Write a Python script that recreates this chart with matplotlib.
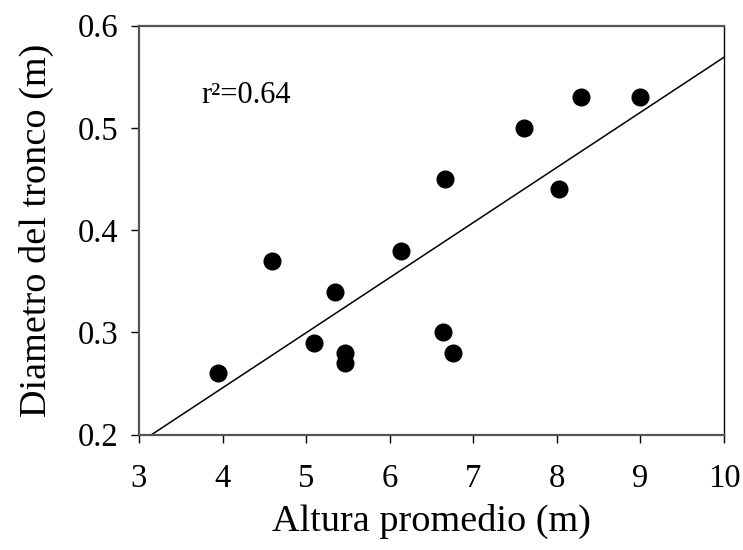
import numpy as np
import matplotlib
matplotlib.use("Agg")
import matplotlib.pyplot as plt

plt.rcParams['font.family'] = ['Liberation Serif', 'DejaVu Serif']

altura = [3.94, 4.59, 5.09, 5.34, 5.465, 5.46, 6.13, 6.64, 6.76, 6.66, 8.03, 8.29, 9.00, 7.61]
diametro = [0.26, 0.37, 0.29, 0.34, 0.28, 0.27, 0.38, 0.30, 0.28, 0.45, 0.44, 0.53, 0.53, 0.50]
x_ticks = [3, 4, 5, 6, 7, 8, 9, 10]
y_ticks = [0.2, 0.3, 0.4, 0.5, 0.6]

fig = plt.figure(figsize=(7.43, 5.5), dpi=100)
ax = fig.add_axes([0.187, 0.2096, 0.7875, 0.7437])

x = np.array(altura)
y = np.array(diametro)
slope, intercept = np.polyfit(x, y, 1)
r2 = np.corrcoef(x, y)[0, 1] ** 2
xl = np.linspace(3, 10, 200)
ax.plot(xl, slope * xl + intercept, color='black', lw=1.1, zorder=2)
ax.plot(x, y, 'o', color='black', markersize=12, zorder=3)

ax.set_xlim(3, 10)
ax.set_ylim(0.2, 0.6)
ax.set_xticks(x_ticks)
ax.set_yticks(y_ticks)
ax.set_xticklabels([str(t) for t in x_ticks])
ax.set_yticklabels([f"{t:.1f}" for t in y_ticks])
ax.tick_params(direction='out', length=6, width=1, labelsize=23.5, colors='black')
ax.tick_params(axis='x', pad=15)
ax.tick_params(axis='y', pad=9)

for side in ['bottom', 'left', 'top']:
    ax.spines[side].set_color('#555555')
    ax.spines[side].set_linewidth(1.6)
ax.spines['right'].set_color('black')
ax.spines['right'].set_linewidth(1.0)

ax.set_xlabel('Altura promedio (m)', fontsize=27.5, labelpad=7)
ax.set_ylabel('Diametro del tronco (m)', fontsize=27.5, labelpad=17)

ax.text(3.75, 0.532, f"r\u00b2={r2:.2f}", fontsize=22, ha='left', va='center')

fig.savefig('out.png', dpi=100)
